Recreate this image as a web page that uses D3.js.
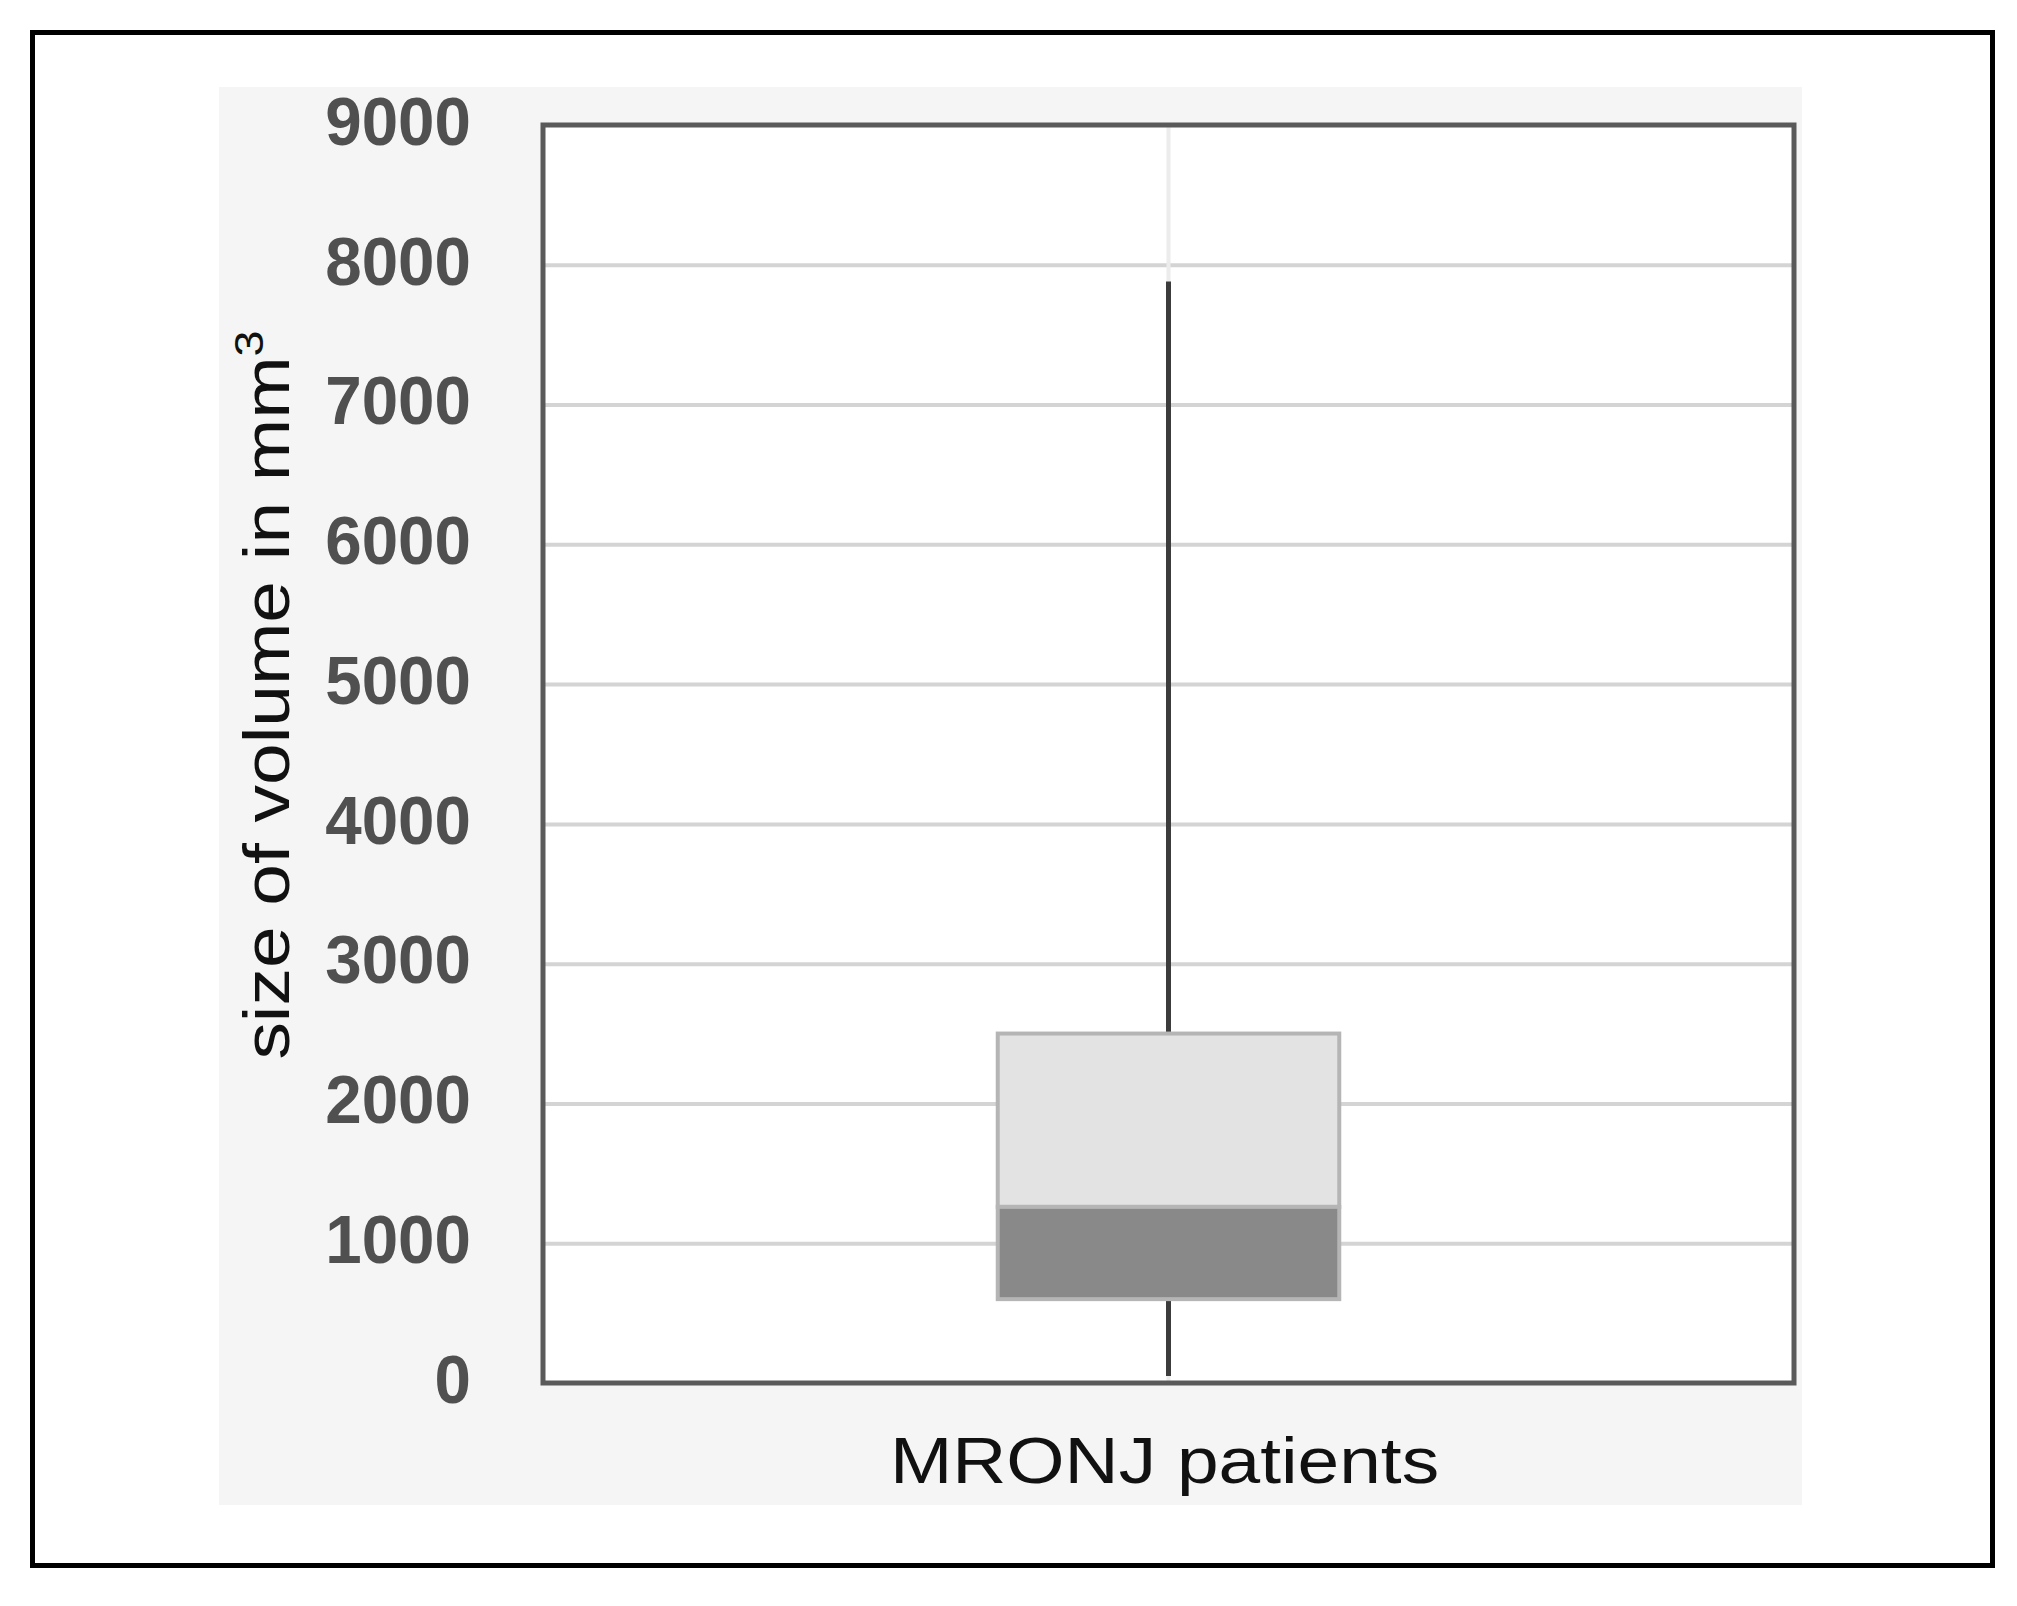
<!DOCTYPE html>
<html>
<head>
<meta charset="utf-8">
<script src="https://cdn.jsdelivr.net/npm/d3@7"></script>
<style>
  html, body { margin: 0; padding: 0; background: #ffffff; }
  svg { display: block; }
</style>
</head>
<body>
<script>
// ---- data ----
const categories = ["MRONJ patients"];
const whiskerMin = [50];
const q1Values = [600];
const medianValues = [1260];
const q3Values = [2500];
const whiskerMax = [7880];
const yTicks = [0, 1000, 2000, 3000, 4000, 5000, 6000, 7000, 8000, 9000];
const yTitle = "size of volume in mm";
const yTitleSup = "3";

// ---- layout ----
const W = 2017, H = 1606;
const plot = { left: 543, right: 1794, top: 125, bottom: 1383 };

const svg = d3.select("body").append("svg")
  .attr("width", W).attr("height", H);

// outer frame
svg.append("rect")
  .attr("x", 32.5).attr("y", 32.5)
  .attr("width", 1960).attr("height", 1533)
  .attr("fill", "#ffffff").attr("stroke", "#000000").attr("stroke-width", 5);

// light gray chart panel
svg.append("rect")
  .attr("x", 219).attr("y", 87)
  .attr("width", 1583).attr("height", 1418)
  .attr("fill", "#f5f5f5");

// plot area
svg.append("rect")
  .attr("x", plot.left).attr("y", plot.top)
  .attr("width", plot.right - plot.left).attr("height", plot.bottom - plot.top)
  .attr("fill", "#ffffff");

const y = d3.scaleLinear().domain([0, 9000]).range([plot.bottom, plot.top]);
const x = d3.scaleBand().domain(categories).range([plot.left, plot.right]);

// horizontal gridlines
svg.append("g")
  .attr("transform", `translate(${plot.left},0)`)
  .call(d3.axisLeft(y).tickValues(yTicks.filter(v => v > 0 && v < 9000))
        .tickSize(-(plot.right - plot.left)).tickFormat(""))
  .call(g => g.select(".domain").remove())
  .call(g => g.selectAll(".tick line").attr("stroke", "#d4d4d4").attr("stroke-width", 4));

// faint vertical category gridline
svg.append("g")
  .selectAll("line").data(categories).join("line")
  .attr("x1", d => x(d) + x.bandwidth() / 2)
  .attr("x2", d => x(d) + x.bandwidth() / 2)
  .attr("y1", y(9000)).attr("y2", y(0))
  .attr("stroke", "#ececec").attr("stroke-width", 4);

// y tick labels (condensed, Calibri-like)
const tickScaleX = 0.95;
svg.append("g")
  .attr("transform", `translate(${plot.left},0)`)
  .call(d3.axisLeft(y).tickValues(yTicks).tickSize(0)
        .tickPadding(72 / tickScaleX).tickFormat(d3.format("d")))
  .call(g => g.select(".domain").remove())
  .call(g => g.selectAll(".tick text")
    .attr("transform", `scale(${tickScaleX},1)`)
    .attr("dy", "0.28em")
    .attr("font-family", "'Liberation Sans', Arial, sans-serif")
    .attr("font-size", 69)
    .attr("font-weight", "bold")
    .attr("fill", "#505050"));

// box plot
const boxW = x.bandwidth() * 0.273;
const cx = d => x(d) + x.bandwidth() / 2;
const gBox = svg.append("g");

// whiskers
gBox.selectAll("line.whisker").data(categories).join("line")
  .attr("class", "whisker")
  .attr("x1", (d) => cx(d)).attr("x2", (d) => cx(d))
  .attr("y1", (d, i) => y(whiskerMax[i])).attr("y2", (d, i) => y(whiskerMin[i]))
  .attr("stroke", "#3c3c3c").attr("stroke-width", 5);

// upper box (median..q3)
gBox.selectAll("rect.upper").data(categories).join("rect")
  .attr("class", "upper")
  .attr("x", d => cx(d) - boxW / 2)
  .attr("y", (d, i) => y(q3Values[i]))
  .attr("width", boxW)
  .attr("height", (d, i) => y(medianValues[i]) - y(q3Values[i]))
  .attr("fill", "#e3e3e3").attr("stroke", "#b5b5b5").attr("stroke-width", 4);

// lower box (q1..median)
gBox.selectAll("rect.lower").data(categories).join("rect")
  .attr("class", "lower")
  .attr("x", d => cx(d) - boxW / 2)
  .attr("y", (d, i) => y(medianValues[i]))
  .attr("width", boxW)
  .attr("height", (d, i) => y(q1Values[i]) - y(medianValues[i]))
  .attr("fill", "#898989").attr("stroke", "#b5b5b5").attr("stroke-width", 4);

// plot frame
svg.append("rect")
  .attr("x", plot.left).attr("y", plot.top)
  .attr("width", plot.right - plot.left).attr("height", plot.bottom - plot.top)
  .attr("fill", "none").attr("stroke", "#5a5a5a").attr("stroke-width", 5);

// x category label
svg.append("g").selectAll("text").data(categories).join("text")
  .attr("transform", d => `translate(${cx(d) - 4},1483) scale(1.17,1)`)
  .attr("text-anchor", "middle")
  .attr("font-family", "'Liberation Sans', Arial, sans-serif")
  .attr("font-size", 64)
  .attr("fill", "#111111")
  .text(d => d);

// y axis title
const yt = svg.append("text")
  .attr("transform", "translate(289,695) rotate(-90) scale(1.17,1)")
  .attr("text-anchor", "middle")
  .attr("font-family", "'Liberation Sans', Arial, sans-serif")
  .attr("font-size", 64)
  .attr("fill", "#111111");
yt.append("tspan").text(yTitle);
yt.append("tspan").attr("font-size", 40).attr("dy", -26).text(yTitleSup);
</script>
</body>
</html>
